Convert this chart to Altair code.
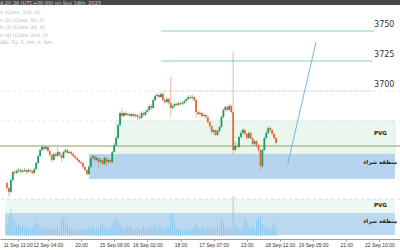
import altair as alt
import pandas as pd

# ---------------- data ----------------
first_open = 3623.3
close = [3619.2, 3615.8, 3625.8, 3632.5, 3631.7, 3633.3, 3634.2, 3632.5, 3633.3, 3634.2,
         3632.5, 3634.2, 3633.3, 3631.7, 3635.0, 3640.0, 3645.8, 3650.8, 3653.3, 3651.7,
         3653.3, 3650.0, 3646.7, 3642.5, 3647.5, 3645.8, 3649.2, 3646.7, 3644.2, 3649.2,
         3650.8, 3648.3, 3649.2, 3647.5, 3645.8, 3644.2, 3642.5, 3640.8, 3640.0, 3636.7,
         3634.2, 3630.8, 3636.7, 3644.2, 3645.8, 3642.5, 3644.2, 3640.8, 3642.5, 3639.2,
         3644.2, 3640.8, 3642.5, 3640.8, 3649.2, 3655.0, 3660.8, 3671.7, 3681.7, 3679.2,
         3681.7, 3680.0, 3680.8, 3679.2, 3680.8, 3679.2, 3680.0, 3678.3, 3677.5, 3681.7,
         3680.0, 3682.5, 3684.2, 3687.5, 3685.8, 3692.5, 3695.8, 3696.7, 3695.0, 3697.5,
         3692.5, 3690.8, 3693.3, 3690.0, 3685.8, 3687.5, 3689.2, 3688.3, 3690.0, 3689.2,
         3690.0, 3691.7, 3693.3, 3695.0, 3694.2, 3695.0, 3692.5, 3682.5, 3680.8, 3681.7,
         3679.2, 3680.0, 3678.3, 3674.2, 3670.8, 3665.8, 3667.5, 3663.3, 3666.7, 3670.0,
         3678.3, 3684.2, 3686.7, 3684.2, 3687.5, 3682.5, 3650.8, 3654.2, 3653.3, 3661.7,
         3665.0, 3667.5, 3664.2, 3660.8, 3665.0, 3660.8, 3655.8, 3658.3, 3655.0, 3650.8,
         3637.5, 3650.8, 3660.8, 3665.0, 3669.2, 3667.5, 3664.2, 3660.8, 3656.7]
high = [3625, 3620, 3627, 3634, 3634.5, 3635, 3636, 3635.5, 3635, 3636,
        3635, 3635.5, 3635.5, 3634, 3636, 3641, 3647, 3652, 3655, 3654.5,
        3654.5, 3654, 3651, 3647.5, 3649, 3649, 3653, 3650, 3647.5, 3650.5,
        3652, 3651.5, 3650.5, 3650, 3648.5, 3647, 3645, 3643.5, 3642, 3641,
        3637.5, 3635, 3638, 3645.5, 3647, 3646.5, 3645.5, 3645, 3644, 3643,
        3645.5, 3645, 3643.5, 3643.5, 3650, 3656.5, 3662, 3673, 3683, 3686,
        3683, 3683, 3682, 3682, 3682, 3681.5, 3681.5, 3681, 3679.5, 3683,
        3683, 3684, 3686, 3689, 3689, 3694, 3697.5, 3698.5, 3698, 3699,
        3698.5, 3694, 3695, 3694.5, 3712, 3689, 3690.5, 3690.5, 3691.5, 3691,
        3691.5, 3693, 3694.5, 3696.5, 3696.5, 3697, 3696, 3693.5, 3683.5, 3683,
        3682.5, 3681.5, 3681, 3679, 3675, 3671.5, 3668.5, 3668, 3668, 3671,
        3679.5, 3685.5, 3688, 3688, 3689.5, 3689, 3732.5, 3658, 3656.5, 3663,
        3667, 3669, 3668.5, 3665, 3666.5, 3666, 3661.5, 3659.5, 3659, 3656,
        3651.5, 3652, 3662, 3667, 3670.5, 3670.5, 3668.5, 3665, 3661.5]
low = [3617.5, 3612, 3614.5, 3624.5, 3630, 3630.5, 3632, 3631, 3631.5, 3632.5,
       3630.5, 3631.5, 3632, 3630, 3630.5, 3634, 3639, 3645, 3650, 3650,
       3650.5, 3648.5, 3645, 3640.5, 3641.5, 3644, 3645, 3645, 3641, 3643.5,
       3648, 3647, 3647.5, 3646, 3644.5, 3643, 3641, 3639.5, 3638.5, 3635.5,
       3633, 3629.5, 3630, 3636, 3643, 3641, 3641.5, 3636, 3640, 3637.5,
       3638.5, 3637, 3639.5, 3639.5, 3640, 3648.5, 3654, 3660, 3670.5, 3678,
       3678.5, 3679, 3679, 3678, 3678.5, 3677.5, 3678, 3676, 3676, 3676.5,
       3678.5, 3679, 3681.5, 3683.5, 3684.5, 3685, 3691.5, 3694.5, 3693, 3694,
       3691, 3689, 3689.5, 3688.5, 3678.3, 3684.5, 3686.5, 3687, 3687.5, 3688,
       3688, 3689, 3690.5, 3692.5, 3693, 3693, 3691, 3678, 3679, 3679.5,
       3677.5, 3678, 3676.5, 3673, 3669, 3664.5, 3664, 3662, 3662.5, 3665.5,
       3669.5, 3677.5, 3683, 3683, 3683.5, 3681.5, 3646.7, 3649.5, 3651.5, 3652.5,
       3660.5, 3664, 3663, 3659, 3660, 3659.5, 3654, 3654.5, 3653, 3649,
       3634, 3636, 3650, 3660, 3664, 3666, 3663, 3659.5, 3655.5]
volume = [12, 20, 27, 18, 14, 10, 12, 9, 11, 8,
          10, 9, 7, 8, 11, 14, 12, 9, 8, 10,
          7, 9, 6, 8, 6, 7, 9, 6, 16, 18,
          14, 11, 9, 7, 6, 5, 7, 5, 6, 8,
          6, 7, 9, 7, 10, 6, 8, 7, 10, 12,
          8, 7, 6, 8, 10, 14, 18, 16, 12, 9,
          7, 8, 10, 11, 8, 6, 7, 9, 6, 8,
          10, 7, 6, 9, 7, 10, 12, 8, 11, 9,
          7, 8, 10, 9, 20, 23, 14, 8, 6, 7,
          5, 6, 8, 5, 6, 7, 8, 12, 9, 7,
          8, 10, 6, 9, 8, 7, 9, 6, 10, 8,
          17, 14, 9, 7, 10, 8, 40, 12, 9, 8,
          6, 10, 17, 15, 9, 8, 11, 7, 16, 18,
          20, 12, 8, 7, 9, 6, 10, 14, 8]

tick_idx = [5.5, 21, 38, 55, 72, 89, 106, 123, 140, 157, 174, 191]
tick_labels = ["11 Sep 11:00", "12 Sep 04:00", "20:00", "15 Sep 09:00", "16 Sep 02:00", "18:00",
               "17 Sep 07:00", "23:00", "18 Sep 12:00", "19 Sep 05:00", "21:00", "22 Sep 10:00"]

level_prices = [3750, 3725, 3700]
level_labels = ["3750", "3725", "3700"]
level_start = [79, 79, 79]
level_end = [188.5, 187.5, 187.5]

grid_prices = [3700, 3675]

zone_names = ["PVG", "منطقة شراء"]
zone_start = [55.5, 42]
zone_top = [3675, 3647.5]
zone_bottom = [3647.5, 3626.7]
zone_label_price = [3665, 3640.8]

mid_line_price = 3654.2

trend_idx = [144, 158.5]
trend_price = [3639.2, 3740.8]

vol_zone_top = [37, 23]
vol_zone_bottom = [23, 1]
vol_zone_label = [31, 15]

legend_lines = ["e (Close, 100, 0)", "s (2) (Close, 50, 0)", "h (3) (Close, 20, 0)",
                "e (4) (Close, 200, 0)", "   (No, 51, 5, 9m, 0, 9m,"]
header_text = "4:20:28 (UTC+00:00) on Sep 18th, 2025"

# ---------------- frames ----------------
n = len(close)
opens = [first_open] + close[:-1]
direction = ["up" if c >= o else "down" for o, c in zip(opens, close)]
candles = pd.DataFrame({"i": list(range(n)), "open": opens, "close": close,
                        "high": high, "low": low, "dir": direction, "vol": volume})

X_DOMAIN = [-1, 199]
xs = alt.Scale(domain=X_DOMAIN, nice=False, zero=False)
ps = alt.Scale(domain=[3576.667, 3775.833], nice=False, zero=False)
vs = alt.Scale(domain=[-3, 236], nice=False, zero=False)

label_expr = "[" + ",".join("'" + t + "'" for t in tick_labels) + "][indexof([" + \
    ",".join(str(v) for v in tick_idx) + "], datum.value)]"
xaxis = alt.Axis(values=tick_idx, labelExpr=label_expr, title=None, grid=False,
                 domainColor="#9a9a9a", tickColor="#9a9a9a", tickSize=2,
                 labelFontSize=5, labelColor="#333333", labelPadding=1.5,
                 labelOverlap=False, labelFont="Liberation Sans", labelFlush=False)


def X(field):
    return alt.X(field, type="quantitative", scale=xs, axis=xaxis)


def X2(field):
    return alt.X2(field)


def PY(field):
    return alt.Y(field, type="quantitative", scale=ps, axis=None)


def VY(field):
    return alt.Y(field, type="quantitative", scale=vs, axis=None)


G = "#1f9d62"
R = "#e8673c"
dir_color = alt.Color("dir:N", scale=alt.Scale(domain=["up", "down"], range=[G, R]), legend=None)

zones = pd.DataFrame({"name": zone_names, "x0": zone_start, "x1": [X_DOMAIN[1]] * 2,
                      "top": zone_top, "bottom": zone_bottom, "lab": zone_label_price,
                      "vtop": vol_zone_top, "vbot": vol_zone_bottom, "vlab": vol_zone_label,
                      "xl": [X_DOMAIN[0]] * 2})
pvg = zones.iloc[[0]]
buy = zones.iloc[[1]]

pvg_main = alt.Chart(pvg).mark_rect(color="#eaf6ee", stroke="#d3ecdc", strokeWidth=0.6).encode(
    x=X("x0"), x2=X2("x1"), y=PY("top"), y2=alt.Y2("bottom"))
buy_main = alt.Chart(buy).mark_rect(color="#b6d4ed").encode(
    x=X("x0"), x2=X2("x1"), y=PY("top"), y2=alt.Y2("bottom"))

pvg_vol = alt.Chart(pvg).mark_rect(color="#edf8f1").encode(
    x=X("xl"), x2=X2("x1"), y=VY("vtop"), y2=alt.Y2("vbot"))
buy_vol = alt.Chart(buy).mark_rect(color="#bcd8ef").encode(
    x=X("xl"), x2=X2("x1"), y=VY("vtop"), y2=alt.Y2("vbot"))

zone_text_main = alt.Chart(zones).mark_text(fontSize=5.5, fontWeight="bold", color="#222222",
                                            font="DejaVu Sans").encode(
    x=X("x1"), y=PY("lab"), text="name:N").transform_calculate(x1="191.5")
zone_text_vol = alt.Chart(zones).mark_text(fontSize=5.5, fontWeight="bold", color="#222222",
                                           font="DejaVu Sans").encode(
    x=X("x1"), y=VY("vlab"), text="name:N").transform_calculate(x1="191.5")

grid = alt.Chart(pd.DataFrame({"p": grid_prices})).mark_rule(
    color="#d9d9d9", strokeWidth=0.6, strokeDash=[3, 3]).encode(y=PY("p"))
sep = alt.Chart(pd.DataFrame({"v": [vol_zone_top[0]]})).mark_rule(
    color="#c8c8c8", strokeWidth=0.6, strokeDash=[3, 3]).encode(y=VY("v"))

levels = pd.DataFrame({"p": level_prices, "lab": level_labels, "x0": level_start, "x1": level_end,
                       "w": [1.2, 1.2, 0.8]})
level_lines = alt.Chart(levels).mark_rule(color="#86d3a6").encode(
    x=X("x0"), x2=X2("x1"), y=PY("p"), strokeWidth=alt.StrokeWidth("w:Q", scale=None, legend=None),
    opacity=alt.condition("datum.p == 3700", alt.value(0.45), alt.value(1.0)))
level_text = alt.Chart(levels).mark_text(fontSize=8, color="#333333", dy=-6, font="DejaVu Sans",
                                         align="center").encode(
    x=X("xt"), y=PY("p"), text="lab:N").transform_calculate(xt="193.5")

mid_line = alt.Chart(pd.DataFrame({"p": [mid_line_price]})).mark_rule(
    color="#aebf8e", strokeWidth=1.4).encode(y=PY("p"))

trend = alt.Chart(pd.DataFrame({"i": trend_idx, "p": trend_price})).mark_line(
    color="#5fb0e6", strokeWidth=0.9).encode(x=X("i"), y=PY("p"))

wicks = alt.Chart(candles).mark_rule(strokeWidth=0.8, opacity=0.6).encode(
    x=X("i"), y=PY("low"), y2=alt.Y2("high"), color=dir_color)
bodies = alt.Chart(candles).mark_bar(width=1.8).encode(
    x=X("i"), y=PY("open"), y2=alt.Y2("close"), color=dir_color)

vol_bars = alt.Chart(candles).mark_bar(width=0.9, color="#7cc3ee", opacity=0.85).encode(
    x=X("i"), y=VY("vol"), y2=alt.datum(0))

header_bar = alt.Chart(pd.DataFrame({"a": [0]})).mark_rect(color="#474747").encode(
    x=alt.value(0), x2=alt.value(400), y=alt.value(0), y2=alt.value(5))
header = alt.Chart(pd.DataFrame({"t": [header_text]})).mark_text(
    fontSize=5, color="#d8d8d8", align="left", baseline="middle", font="DejaVu Sans").encode(
    x=alt.value(0), y=alt.value(3), text="t:N")
legend_layers = []
for k, line in enumerate(legend_lines):
    legend_layers.append(alt.Chart(pd.DataFrame({"t": [line]})).mark_text(
        fontSize=4.8, color="#b5b5b5", align="left", baseline="middle", font="DejaVu Sans").encode(
        x=alt.value(0), y=alt.value(13 + 7.6 * k), text="t:N"))

chart = alt.layer(
    pvg_vol, buy_vol, sep, pvg_main, buy_main, grid, mid_line, level_lines,
    vol_bars, wicks, bodies, trend, level_text, zone_text_main, zone_text_vol,
    header_bar, header, *legend_layers
).resolve_scale(y="independent").properties(
    width=400, height=239, padding={"left": 0, "top": 0, "right": 0, "bottom": 11},
    autosize=alt.AutoSizeParams(type="none"),
    background="white"
).configure_view(stroke=None)

chart.save("out.html", embed_options={"renderer": "svg", "actions": False})
